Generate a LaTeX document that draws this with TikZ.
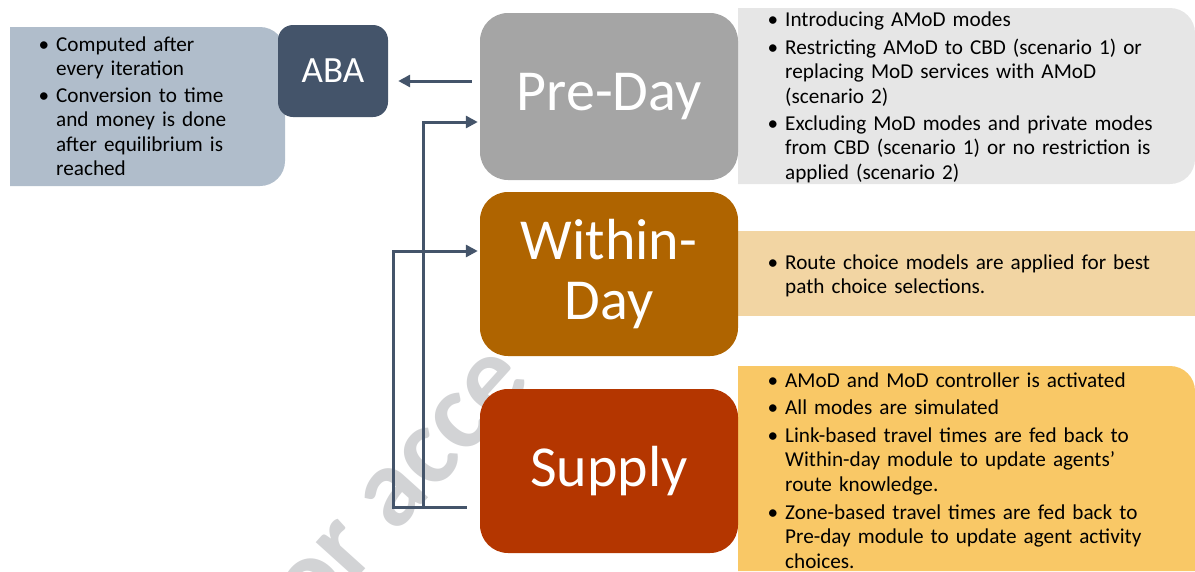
\documentclass[tikz,border=0pt]{standalone}
\usepackage{fontspec}
\setmainfont{Carlito}
\usetikzlibrary{arrows.meta}
\definecolor{abanotec}{HTML}{B0BDCB}
\definecolor{abadark}{HTML}{44546A}
\definecolor{pregray}{HTML}{A5A5A5}
\definecolor{prenotec}{HTML}{E6E6E6}
\definecolor{withinc}{HTML}{AF6400}
\definecolor{withinnotec}{HTML}{F2D5A3}
\definecolor{supplyc}{HTML}{B43600}
\definecolor{supplynotec}{HTML}{F9C866}
\definecolor{arrowc}{HTML}{44546A}
\definecolor{wmgray}{HTML}{D2D3D5}
\newcommand\notefont{\fontsize{21.2}{24.5}\selectfont}
\newcommand\bul{\leavevmode\llap{\textbullet\hspace{7pt}}\strut}
\begin{document}
\begin{tikzpicture}[x=1pt,y=1pt,
  bigbox/.style={draw=none, text=white, align=center, inner sep=0pt,
    minimum width=258pt, minimum height=164pt, rounded corners=28pt,
    font=\fontsize{58}{60}\selectfont},
  item/.style={anchor=north west, yshift=17.15pt, inner sep=0pt,
    text width=430pt, align=left, font=\notefont, text=black},
  arr/.style={draw=arrowc, line width=3pt, -{Triangle[length=12pt,width=12pt]}},
  watermark/.style={anchor=base west, rotate=48, inner sep=0pt, text=wmgray,
    font=\fontsize{112}{112}\selectfont\bfseries}
]
\useasboundingbox (0,0) rectangle (1195,-571);
% watermark
\begin{scope}
\clip (0,0) rectangle (1195,-571);
\node[watermark] (wm) at (312,-628) {or acce};
\end{scope}
% note backgrounds
\fill[abanotec] (10,-27) -- (260,-27) arc[start angle=90,end angle=0,radius=25pt]
  -- (285,-161) arc[start angle=0,end angle=-90,radius=25pt] -- (10,-186) -- cycle;
\fill[prenotec] (738,-8) -- (1170,-8) arc[start angle=90,end angle=0,radius=25pt]
  -- (1195,-159) arc[start angle=0,end angle=-90,radius=25pt] -- (738,-184) -- cycle;
\fill[withinnotec] (738,-231) rectangle (1195,-316);
\fill[supplynotec] (738,-366) -- (1170,-366) arc[start angle=90,end angle=0,radius=25pt]
  -- (1195,-571) -- (738,-571) -- cycle;
% main boxes
\node[bigbox, fill=abadark, minimum width=110pt, minimum height=92pt,
  rounded corners=15pt, font=\fontsize{37}{40}\selectfont] (aba) at (333,-71) {ABA};
\node[bigbox, fill=pregray, minimum height=167pt] (pre) at (609,-96.5) {Pre-Day};
\node[bigbox, fill=withinc] (within) at (609,-274) {Within-\\Day};
\node[bigbox, fill=supplyc] (supply) at (609,-471) {Supply};
% connectors
\coordinate (abaIn) at ([xshift=10pt,yshift=-10pt]aba.east);
\coordinate (preOut) at ([xshift=-8pt,yshift=15.5pt]pre.west);
\coordinate (supOut) at ([xshift=-13pt,yshift=-36pt]supply.west);
\coordinate (preIn) at ([xshift=-2pt,yshift=-25.5pt]pre.west);
\coordinate (withinIn) at ([xshift=-2pt,yshift=23pt]within.west);
\draw[arr] (preOut) -- (abaIn);
\draw[arr] (supOut) -| ([xshift=-54pt]preIn) -- (preIn);
\draw[arr] (supOut) -| ([xshift=-84pt]withinIn) -- (withinIn);
% notes text
\node[item] (a1) at (56,-51) {\bul Computed after\\every iteration};
\node[item] (a2) at (56,-102) {\bul Conversion to time\\and money is done\\after equilibrium is\\reached};
\node[item] (p1) at (785,-26) {\bul Introducing AMoD modes};
\node[item] (p2) at (785,-54) {\bul Restricting AMoD to CBD (scenario 1) or\\replacing MoD services with AMoD\\(scenario 2)};
\node[item] (p3) at (785,-130) {\bul Excluding MoD modes and private modes\\from CBD (scenario 1) or no restriction is\\applied (scenario 2)};
\node[item] (w1) at (785,-269) {\bul Route choice models are applied for best\\path choice selections.};
\node[item] (s1) at (785,-387) {\bul AMoD and MoD controller is activated};
\node[item] (s2) at (785,-414) {\bul All modes are simulated};
\node[item] (s3) at (785,-442) {\bul Link-based travel times are fed back to\\Within-day module to update agents’\\route knowledge.};
\node[item] (s4) at (785,-519) {\bul Zone-based travel times are fed back to\\Pre-day module to update agent activity\\choices.};
\end{tikzpicture}
\end{document}
